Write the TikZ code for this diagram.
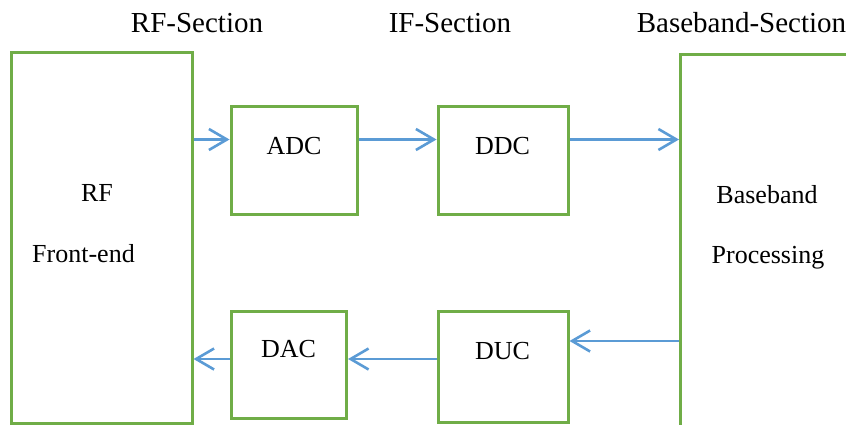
\documentclass[tikz,border=0pt]{standalone}
\usepackage{fontspec}
\setmainfont{Liberation Serif}
\usetikzlibrary{arrows.meta}
\definecolor{boxgreen}{HTML}{70AD47}
\definecolor{arrblue}{HTML}{5B9BD5}
\tikzset{
  blk/.style={draw=boxgreen, line width=3pt, rectangle, inner sep=0pt},
  arr/.style={draw=arrblue, line width=2.6pt, -{Straight Barb[length=18pt,width=21pt]}},
  hdr/.style={anchor=base, inner sep=0pt, font=\fontsize{29}{33}\selectfont},
  lbl/.style={anchor=base, inner sep=0pt, font=\fontsize{26}{30}\selectfont}
}
\begin{document}
\begin{tikzpicture}[x=1pt,y=-1pt]
\useasboundingbox (0,0) rectangle (846,425);
\clip (0,0) rectangle (846,425);
% boxes
\node[blk, minimum width=181pt, minimum height=370pt] (rf) at (101.5,238) {};
\node[blk, minimum width=126.5pt, minimum height=107pt] (adc) at (294.25,160.5) {};
\node[blk, minimum width=130pt, minimum height=107pt] (ddc) at (503,160.5) {};
\node[blk, minimum width=115.5pt, minimum height=106.5pt] (dac) at (288.75,364.75) {};
\node[blk, minimum width=130pt, minimum height=111pt] (duc) at (503,367) {};
\node[blk, minimum width=240pt, minimum height=420pt, anchor=north west] (bb) at (679,53) {};
% headers
\node[hdr] (h1) at (197,33) {RF-Section};
\node[hdr] (h2) at (450,33) {IF-Section};
\node[hdr] (h3) at (741.5,33) {Baseband-Section};
% labels
\node[lbl] (tadc) at (294,155) {ADC};
\node[lbl] (tddc) at (502.5,155) {DDC};
\node[lbl] (tdac) at (288.5,357) {DAC};
\node[lbl] (tduc) at (502.5,359) {DUC};
\node[lbl] (trf1) at (97,201) {RF};
\node[lbl] (trf2) at (83.5,262) {Front-end};
\node[lbl] (tbb1) at (767,203) {Baseband};
\node[lbl] (tbb2) at (768,263) {Processing};
% arrow rows
\coordinate (r1) at (0,139.5);
\coordinate (r2) at (0,341);
\coordinate (r3) at (0,359);
\draw[arr] (rf.east |- r1) -- (adc.west |- r1);
\draw[arr] (adc.east |- r1) -- (ddc.west |- r1);
\draw[arr] (ddc.east |- r1) -- (bb.west |- r1);
\draw[arr] (bb.west |- r2) -- (duc.east |- r2);
\draw[arr] (duc.west |- r3) -- (dac.east |- r3);
\draw[arr] (dac.west |- r3) -- (rf.east |- r3);
\end{tikzpicture}
\end{document}
